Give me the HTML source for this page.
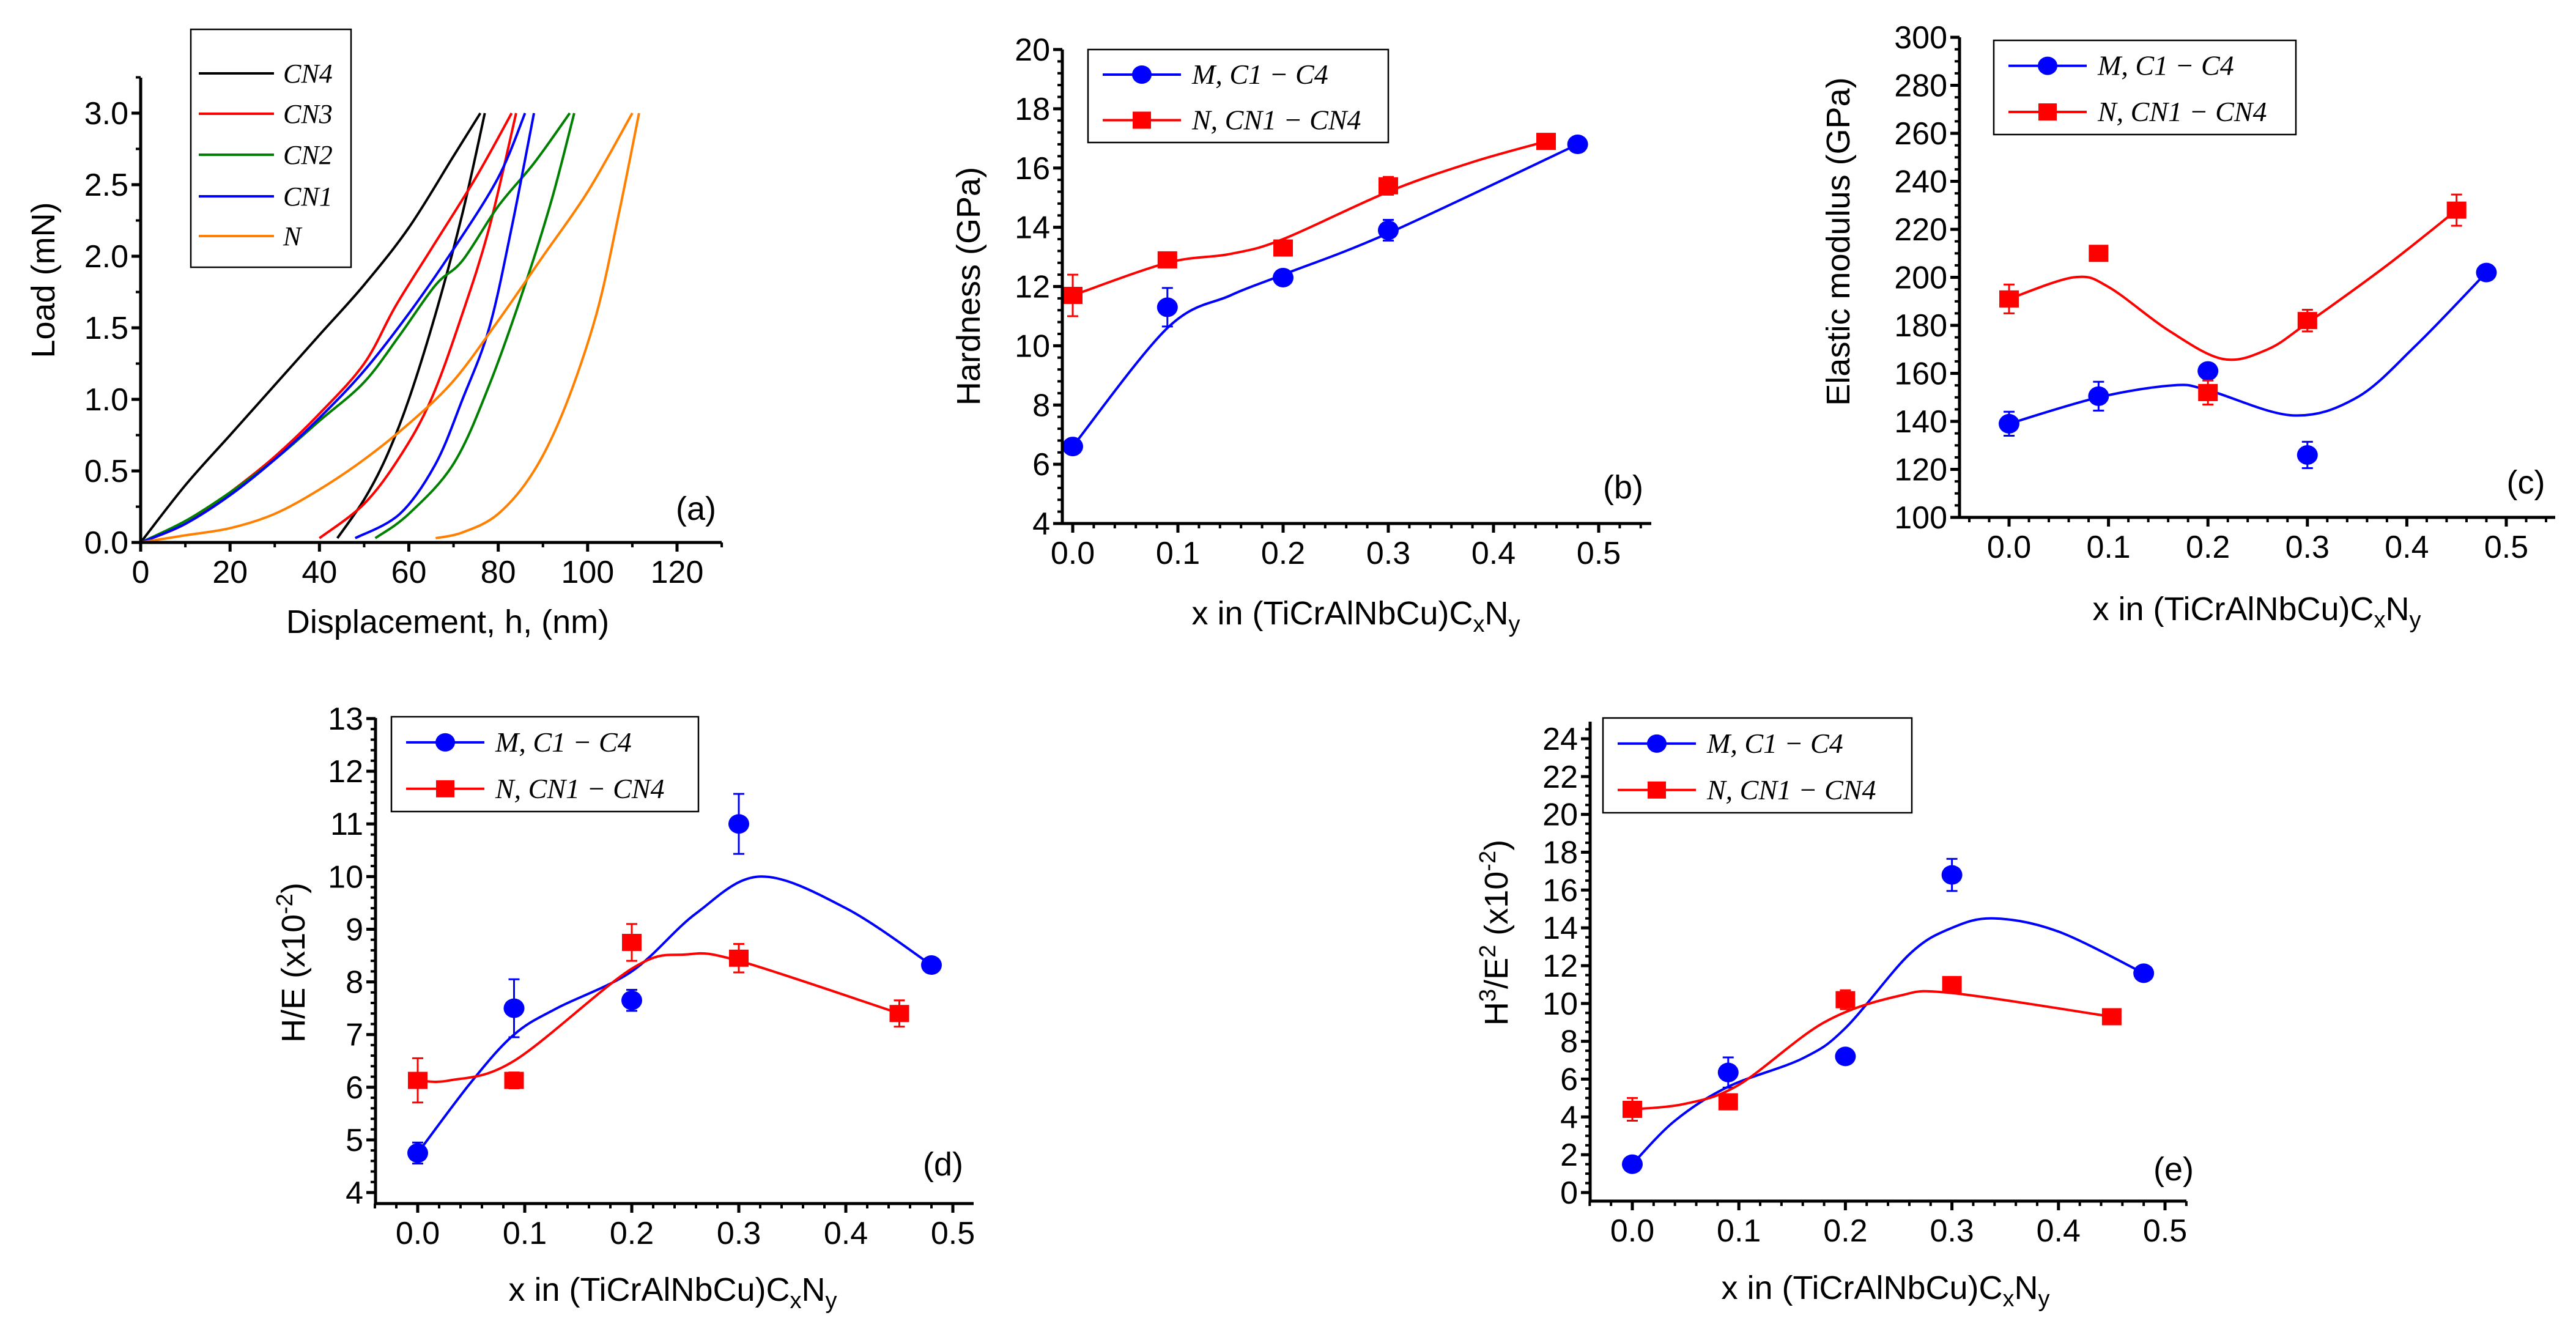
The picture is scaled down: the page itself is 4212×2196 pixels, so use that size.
<!DOCTYPE html>
<html><head><meta charset="utf-8">
<style>
html,body{margin:0;padding:0;background:#fff}
svg{display:block}
text{font-family:"Liberation Sans",Arial,sans-serif;fill:#000}
.leg{font-family:"Liberation Serif",serif;font-style:italic}
</style></head>
<body>
<svg id="fig" width="4212" height="2196" viewBox="0 0 4212 2196" xmlns="http://www.w3.org/2000/svg"></svg>
<script>
// ---------- Panel (a) data ----------
const aNames=["CN4","CN3","CN2","CN1","N"];
const aColors=["#000000","#ff0000","#008000","#0000ff","#ff8000"];
const aLoadX=[[0,10,20,30,40,50,60,70,76],[0,10,20,30,40,50,57,65,75,83],[0,10,20,30,40,50,58,66,72,80,88,96],[0,10,20,30,40,50,60,70,80,86],[0,10,20,30,40,50,60,70,80,90,100,110]];
const aLoadY=[[0,0.4,0.75,1.1,1.45,1.8,2.2,2.7,3.0],[0,0.13,0.35,0.6,0.9,1.25,1.65,2.05,2.55,3.0],[0,0.15,0.35,0.58,0.85,1.12,1.45,1.8,1.97,2.35,2.65,3.0],[0,0.13,0.33,0.58,0.87,1.2,1.6,2.05,2.55,3.0],[0,0.05,0.1,0.2,0.37,0.58,0.83,1.13,1.55,2.0,2.45,3.0]];
const aUnlX=[[77,72,66,60,55,50,44],[84,78,72,65,58,50,40],[97,92,86,78,70,60,52.5],[88,83,78,72,66,58,48],[111.5,107,102,95,88,80,72,66]];
const aUnlY=[[3.0,2.3,1.6,1.0,0.6,0.3,0.03],[3.0,2.2,1.6,1.0,0.6,0.27,0.03],[3.0,2.4,1.8,1.1,0.55,0.2,0.03],[3.0,2.2,1.5,1.0,0.55,0.2,0.03],[3.0,2.3,1.6,0.95,0.5,0.2,0.07,0.03]];
const aXTicks=["0","20","40","60","80","100","120"];
const aYTicks=["0.0","0.5","1.0","1.5","2.0","2.5","3.0"];

// ---------- Panels (b)-(e) data ----------
const xCats=[0,0.09,0.2,0.3,0.48];
const xCatsN=[0,0.09,0.2,0.3,0.45];
const xTickLabels=["0.0","0.1","0.2","0.3","0.4","0.5"];
// (b) Hardness
const bM=[6.6,11.3,12.3,13.9,16.8];
const bMerr=[0.1,0.65,0.1,0.35,0.1];
const bN=[11.7,12.9,13.3,15.4,16.9];
const bNerr=[0.7,0.1,0.1,0.3,0.15];
const bMfitX=[0,0.09,0.15,0.2,0.3,0.48], bMfitY=[6.6,10.6,11.7,12.4,13.8,16.8];
const bNfitX=[0,0.09,0.15,0.2,0.3,0.38,0.45], bNfitY=[11.7,12.8,13.1,13.6,15.2,16.2,16.9];
// (c) Elastic modulus
const cM=[139,150.5,161,126,202];
const cMerr=[5,6,1,5.5,1];
const cN=[191,210,152,182,228];
const cNerr=[6,3,5,4.5,6.5];
const cMfitX=[0,0.09,0.165,0.2,0.285,0.35,0.41,0.48], cMfitY=[139,150,155,153,142.5,150,172,202];
const cNfitX=[0,0.065,0.1,0.16,0.215,0.26,0.3,0.38,0.45], cNfitY=[191,200,196,178,166,170,181,205,228];
// (d) H/E
const dM=[4.75,7.5,7.65,11.0,8.32];
const dMerr=[0.2,0.55,0.2,0.57,0.05];
const dN=[6.13,6.13,8.75,8.45,7.4];
const dNerr=[0.42,0.15,0.35,0.27,0.25];
const dMfitX=[0,0.05,0.09,0.13,0.2,0.26,0.32,0.4,0.48], dMfitY=[4.75,6.1,7.0,7.5,8.2,9.3,10.0,9.4,8.32];
const dNfitX=[0,0.03,0.09,0.2,0.25,0.3,0.45], dNfitY=[6.13,6.13,6.5,8.25,8.52,8.4,7.4];
// (e) H3/E2
const eM=[1.5,6.35,7.2,16.8,11.6];
const eMerr=[0.1,0.8,0.1,0.85,0.1];
const eN=[4.4,4.8,10.2,11.0,9.3];
const eNerr=[0.6,0.1,0.5,0.2,0.1];
const eMfitX=[0,0.04,0.09,0.16,0.2,0.26,0.3,0.34,0.4,0.48], eMfitY=[1.5,3.8,5.6,7.1,8.7,12.6,14.0,14.5,13.8,11.6];
const eNfitX=[0,0.05,0.1,0.18,0.25,0.3,0.45], eNfitY=[4.4,4.7,5.7,9.0,10.4,10.55,9.3];

const NS="http://www.w3.org/2000/svg";
const svg=document.getElementById('fig');
function mk(tag,attrs,parent){const e=document.createElementNS(NS,tag);for(const k in attrs)e.setAttribute(k,attrs[k]);(parent||svg).appendChild(e);return e;}
function scale(d0,d1,p0,p1){return v=>p0+(v-d0)*(p1-p0)/(d1-d0);}
function spline(xs,ys){
  let d="M"+xs[0].toFixed(1)+","+ys[0].toFixed(1);
  for(let i=0;i<xs.length-1;i++){
    const x0=xs[Math.max(i-1,0)],y0=ys[Math.max(i-1,0)],x1=xs[i],y1=ys[i],x2=xs[i+1],y2=ys[i+1],x3=xs[Math.min(i+2,xs.length-1)],y3=ys[Math.min(i+2,xs.length-1)];
    d+=" C"+(x1+(x2-x0)/6).toFixed(1)+","+(y1+(y2-y0)/6).toFixed(1)+" "+(x2-(x3-x1)/6).toFixed(1)+","+(y2-(y3-y1)/6).toFixed(1)+" "+x2.toFixed(1)+","+y2.toFixed(1);
  }
  return d;
}
function axes(g,o){
  const ax=mk('g',{},g);
  
  
  mk('line',{x1:o.left,y1:o.bottom,x2:o.right,y2:o.bottom,stroke:'#000','stroke-width':5},ax);
  mk('line',{x1:o.left,y1:o.bottom,x2:o.left,y2:o.top,stroke:'#000','stroke-width':5},ax);
  for(let v=o.xMinorStart;v<=o.xMax+1e-9;v+=o.xMinor){const x=o.sx(v);if(x<o.left-1||x>o.right+1)continue;mk('line',{x1:x,y1:o.bottom,x2:x,y2:o.bottom+8,stroke:'#000','stroke-width':4},ax);}
  for(let v=o.yMinorStart;v<=o.yMax+1e-9;v+=o.yMinor){const y=o.sy(v);if(y>o.bottom+1||y<o.top-1)continue;mk('line',{x1:o.left,y1:y,x2:o.left-8,y2:y,stroke:'#000','stroke-width':4},ax);}
  o.xTicks.forEach((lab,i)=>{const v=o.xTickVals[i],x=o.sx(v);
    mk('line',{x1:x,y1:o.bottom,x2:x,y2:o.bottom+15,stroke:'#000','stroke-width':5},ax);
    const t=mk('text',{x:x,y:o.bottom+66,'text-anchor':'middle','font-size':52},ax);t.textContent=lab;
    
    });
  o.yTicks.forEach((lab,i)=>{const v=o.yTickVals[i],y=o.sy(v);
    mk('line',{x1:o.left,y1:y,x2:o.left-15,y2:y,stroke:'#000','stroke-width':5},ax);
    const t=mk('text',{x:o.left-20,y:y+18,'text-anchor':'end','font-size':52},ax);t.textContent=lab;
    
    });
}
function xTitle(g,cx,by){
  const t=mk('text',{x:cx,y:by,'text-anchor':'middle','font-size':54},g);
  
  
  t.innerHTML='x in (TiCrAlNbCu)C<tspan dy="12" font-size="38">x</tspan><tspan dy="-12">N</tspan><tspan dy="12" font-size="38">y</tspan>';
}
function yTitle(g,cx,cy,html){
  const t=mk('text',{x:0,y:0,'text-anchor':'middle','font-size':54,transform:`translate(${cx+19},${cy}) rotate(-90)`},g);
  
  
  t.innerHTML=html;
}
function panelLabel(g,x,y,s){const t=mk('text',{x:x,y:y+18,'text-anchor':'middle','font-size':54},g);t.textContent=s;
  
  }
function legend2(g,x1,y1,x2,y2){
  const L=mk('g',{},g);
  
  
  mk('rect',{x:x1,y:y1,width:x2-x1,height:y2-y1,fill:'#fff',stroke:'#000','stroke-width':2.5},L);
  const h=y2-y1, r1=y1+h*0.27, r2=y1+h*0.76, lx=x1+24, lw=128, tx=x1+170;
  [[r1,'#0000ff','circle','M, C1 − C4','legend-entry-m'],[r2,'#ff0000','square','N, CN1 − CN4','legend-entry-n']].forEach(r=>{
    const e=mk('g',{},L);
    
    
    mk('line',{x1:lx,y1:r[0],x2:lx+lw,y2:r[0],stroke:r[1],'stroke-width':4},e);
    if(r[2]=='circle')mk('ellipse',{cx:lx+lw/2,cy:r[0],rx:16,ry:15,fill:r[1]},e);
    else mk('rect',{x:lx+lw/2-15,y:r[0]-14,width:30,height:28,fill:r[1]},e);
    const t=mk('text',{x:tx,y:r[0]+15,'font-size':46,class:'leg'},e);t.textContent=r[3];
  });
}
function series(g,name,color,shape,xs,ys,errs,fx,fy,sx,sy){
  const s=mk('g',{},g);
  
  
  const p=mk('path',{d:spline(fx.map(sx),fy.map(sy)),fill:'none',stroke:color,'stroke-width':4},s);
  
  
  xs.forEach((xv,i)=>{
    const x=sx(xv),y=sy(ys[i]),yt=sy(ys[i]+errs[i]),yb=sy(ys[i]-errs[i]);
    const eb=mk('path',{d:`M${x},${yt}V${yb}M${x-9},${yt}H${x+9}M${x-9},${yb}H${x+9}`,stroke:color,'stroke-width':3,fill:'none'},s);
    
    
    let m;
    if(shape=='circle')m=mk('ellipse',{cx:x,cy:y,rx:17,ry:16,fill:color},s);
    else m=mk('rect',{x:x-16,y:y-14,width:32,height:28,fill:color},s);
    
    
  });
}

// ---------- Panel (a) ----------
(function(){
  const g=mk('g',{});
  
  
  const sx=scale(0,120,230,1107), sy=scale(0,3,887,185);
  aNames.forEach((n,i)=>{
    const c=mk('g',{},g);
    
    
    mk('path',{d:spline(aLoadX[i].map(sx),aLoadY[i].map(sy)),fill:'none',stroke:aColors[i],'stroke-width':4},c);
    mk('path',{d:spline(aUnlX[i].map(sx),aUnlY[i].map(sy)),fill:'none',stroke:aColors[i],'stroke-width':4},c);
  });
  axes(g,{left:230,right:1180,top:127,bottom:887,sx,sy,xMax:130,yMax:3.25,xMinorStart:0,xMinor:10,yMinorStart:0,yMinor:0.25,
    xTicks:aXTicks,xTickVals:aXTicks.map(Number),yTicks:aYTicks,yTickVals:aYTicks.map(Number)});
  const xt=mk('text',{x:732,y:1035,'text-anchor':'middle','font-size':54},g);xt.textContent='Displacement, h, (nm)';
  
  
  yTitle(g,70,458,'Load (mN)');
  const L=mk('g',{},g);
  
  
  mk('rect',{x:312,y:48,width:262,height:389,fill:'#fff',stroke:'#000','stroke-width':2.5},L);
  const rows=[120,186,253,321,386];
  aNames.forEach((n,i)=>{
    const e=mk('g',{},L);
    
    
    mk('line',{x1:325,y1:rows[i],x2:448,y2:rows[i],stroke:aColors[i],'stroke-width':4},e);
    const t=mk('text',{x:463,y:rows[i]+15,'font-size':44,class:'leg'},e);t.textContent=n;
  });
  panelLabel(g,1138,832,'(a)');
})();

function xyPanel(id,lab,o){
  const g=mk('g',{});
  
  
  const sx=scale(0,0.5,o.x0,o.x5), sy=scale(o.yv0,o.yv1,o.yp0,o.yp1);
  series(g,'series-m','#0000ff','circle',xCats,o.M,o.Merr,o.MfX,o.MfY,sx,sy);
  series(g,'series-n','#ff0000','square',xCatsN,o.N,o.Nerr,o.NfX,o.NfY,sx,sy);
  axes(g,{left:o.left,right:o.right,top:o.top,bottom:o.bottom,sx,sy,xMax:0.55,yMax:o.yMax,xMinorStart:-0.04,xMinor:0.02,yMinorStart:o.yMinStart,yMinor:o.yMinor,
    xTicks:xTickLabels,xTickVals:xTickLabels.map(Number),yTicks:o.yTicks,yTickVals:o.yTicks.map(Number)});
  xTitle(g,o.xtx,o.xty);
  yTitle(g,o.ytx,o.yty,o.yt);
  legend2(g,o.lg[0],o.lg[1],o.lg[2],o.lg[3]);
  panelLabel(g,o.pl[0],o.pl[1],lab);
}
xyPanel('panel-b-hardness','(b)',{x0:1754,x5:2614,yv0:4,yv1:20,yp0:856,yp1:81,left:1737,right:2700,top:81,bottom:856,yMax:20,yMinStart:4,yMinor:0.4,
  yTicks:["4","6","8","10","12","14","16","18","20"],M:bM,Merr:bMerr,N:bN,Nerr:bNerr,MfX:bMfitX,MfY:bMfitY,NfX:bNfitX,NfY:bNfitY,
  xtx:2217,xty:1021,ytx:1583,yty:468,yt:'Hardness (GPa)',lg:[1779,81,2270,233],pl:[2654,797]});
xyPanel('panel-c-elastic-modulus','(c)',{x0:3285,x5:4098,yv0:100,yv1:300,yp0:846,yp1:61,left:3204,right:4178,top:61,bottom:846,yMax:300,yMinStart:100,yMinor:5,
  yTicks:["100","120","140","160","180","200","220","240","260","280","300"],M:cM,Merr:cMerr,N:cN,Nerr:cNerr,MfX:cMfitX,MfY:cMfitY,NfX:cNfitX,NfY:cNfitY,
  xtx:3690,xty:1014,ytx:3005,yty:395,yt:'Elastic modulus (GPa)',lg:[3260,66,3754,220],pl:[4130,789]});
xyPanel('panel-d-h-over-e','(d)',{x0:683,x5:1558,yv0:4,yv1:13,yp0:1950,yp1:1175,left:614,right:1592,top:1174,bottom:1968,yMax:13,yMinStart:4,yMinor:0.2,
  yTicks:["4","5","6","7","8","9","10","11","12","13"],M:dM,Merr:dMerr,N:dN,Nerr:dNerr,MfX:dMfitX,MfY:dMfitY,NfX:dNfitX,NfY:dNfitY,
  xtx:1100,xty:2127,ytx:479,yty:1574,yt:'H/E (x10<tspan dy="-20" font-size="38">-2</tspan><tspan dy="20">)</tspan>',lg:[640,1172,1142,1327],pl:[1542,1904]});
xyPanel('panel-e-h3-over-e2','(e)',{x0:2669,x5:3540,yv0:0,yv1:24,yp0:1950,yp1:1208,left:2600,right:3575,top:1180,bottom:1964,yMax:25,yMinStart:0,yMinor:0.5,
  yTicks:["0","2","4","6","8","10","12","14","16","18","20","22","24"],M:eM,Merr:eMerr,N:eN,Nerr:eNerr,MfX:eMfitX,MfY:eMfitY,NfX:eNfitX,NfY:eNfitY,
  xtx:3083,xty:2124,ytx:2446,yty:1525,yt:'H<tspan dy="-20" font-size="38">3</tspan><tspan dy="20">/E</tspan><tspan dy="-20" font-size="38">2</tspan><tspan dy="20"> (x10</tspan><tspan dy="-20" font-size="38">-2</tspan><tspan dy="20">)</tspan>',lg:[2621,1174,3126,1329],pl:[3554,1912]});
</script>
</body></html>
